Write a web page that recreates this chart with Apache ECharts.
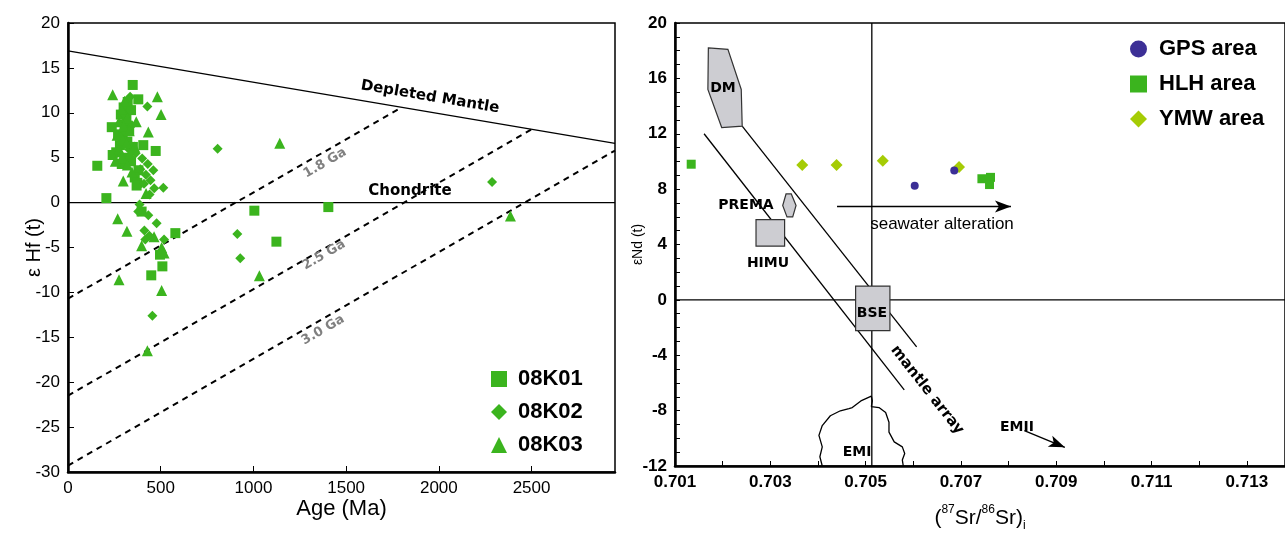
<!DOCTYPE html>
<html>
<head>
<meta charset="utf-8">
<script src="https://cdn.jsdelivr.net/npm/echarts@6/dist/echarts.min.js"></script>
<style>
  html, body { margin: 0; padding: 0; background: #fff; }
  #chart { width: 1285px; height: 537px; }
</style>
</head>
<body>
<div id="chart"></div>
<script>
// ---- left panel: eHf(t) vs age ----
const hf08K01 = [
  [349, 13.1], [379, 11.5], [322, 11.2], [300, 10.6], [340, 10.3], [285, 9.8], [315, 9.3],
  [236, 8.4], [305, 8.7], [330, 8.0], [270, 7.6], [295, 7.2], [320, 6.8], [406, 6.4],
  [350, 6.2], [280, 6.4], [260, 5.6], [473, 5.75], [241, 5.3], [310, 5.0], [340, 4.6],
  [290, 4.3], [158, 4.1], [380, 3.6], [360, 2.8], [374, 2.2], [370, 1.9], [207, 0.5],
  [397, -1.0], [579, -3.4], [496, -5.8], [509, -7.1], [449, -8.1], [1005, -0.9],
  [1404, -0.5], [1124, -4.35]
]
const hf08K02 = [
  [428, 10.7], [335, 11.8], [300, 9.9], [345, 8.6], [310, 7.9], [283, 6.6], [330, 5.9],
  [365, 5.5], [300, 4.6], [400, 4.9], [430, 4.3], [390, 3.7], [420, 3.1], [460, 3.6],
  [445, 2.5], [410, 2.1], [465, 1.6], [514, 1.65], [440, 0.9], [386, -0.2], [379, -1.0],
  [433, -1.4], [478, -2.3], [412, -3.1], [439, -3.7], [417, -4.1], [518, -4.1],
  [455, -12.6], [807, 6.0], [2287, 2.3], [913, -3.5], [929, -6.2]
]
const hf08K03 = [
  [241, 12.0], [482, 11.8], [305, 11.3], [290, 10.4], [502, 9.8], [320, 9.4], [275, 9.0],
  [368, 9.0], [300, 8.5], [330, 8.0], [433, 7.85], [265, 7.5], [295, 7.0], [315, 6.6],
  [360, 6.2], [275, 6.0], [335, 5.4], [290, 5.0], [255, 4.6], [320, 4.2], [345, 3.4],
  [298, 2.4], [421, 1.0], [268, -1.8], [318, -3.2], [464, -3.8], [397, -4.8], [505, -5.0],
  [518, -5.6], [275, -8.6], [505, -9.8], [428, -16.5], [1142, 6.6], [1032, -8.15],
  [2386, -1.5]
]
const depletedMantle = [[0, 16.9], [2950, 6.6]]
const chondrite = [[0, 0], [2950, 0]]
const evo18 = [[0, -10.7], [1800, 10.6]]
const evo25 = [[0, -21.5], [2500, 8.15]]
const evo30 = [[0, -29.3], [2950, 5.8]]

// ---- right panel: eNd(t) vs (87Sr/86Sr)i ----
const gpsArea = [[0.70603, 8.25], [0.70686, 9.35]]
const hlhArea = [[0.70134, 9.8], [0.70744, 8.75], [0.70762, 8.85], [0.70760, 8.33]]
const ymwArea = [[0.70367, 9.75], [0.70439, 9.75], [0.70536, 10.05], [0.70696, 9.6]]

const dmField = [[0.70170, 18.2], [0.70211, 18.1], [0.70239, 15.2], [0.70241, 12.55], [0.70198, 12.45], [0.70169, 15.2]]
const premaField = [[0.70333, 7.65], [0.70344, 7.65], [0.70354, 6.82], [0.70347, 5.99], [0.70335, 5.99], [0.70326, 6.82]]
const himuField = [[0.70270, 5.80], [0.70330, 5.80], [0.70330, 3.88], [0.70270, 3.88]]
const bseField = [[0.70479, 1.0], [0.70551, 1.0], [0.70551, -2.22], [0.70479, -2.22]]
const emiField = [
  [0.70409, -12], [0.70404, -11.33], [0.70409, -10.62], [0.70402, -9.79], [0.70409, -9.08],
  [0.70426, -8.37], [0.70447, -8.01], [0.70465, -7.85], [0.70472, -7.78], [0.70490, -7.30],
  [0.70512, -6.95], [0.70514, -7.30], [0.70512, -7.71], [0.70528, -7.78], [0.70542, -8.13],
  [0.70549, -8.84], [0.70549, -9.55], [0.70560, -10.26], [0.70577, -10.62], [0.70582, -11.09],
  [0.70577, -11.56], [0.70579, -12]
]
const arrayUpper = [[0.70241, 12.55], [0.70607, -3.4]]
const arrayLower = [[0.70161, 12.0], [0.70581, -6.5]]
const bseVertical = [[0.70513, -12], [0.70513, 20]]
const ndZero = [[0.701, 0], [0.7138, 0]]
const seawaterArrow = [[0.70440, 6.75], [0.70805, 6.75]]
const emiiArrow = [[0.70833, -9.45], [0.70918, -10.65]]

const GREEN = '#3bb41e'
const LIME = '#a5cc05'
const NAVY = '#3c2f96'
const SANS = "'Liberation Sans', Arial, sans-serif"
const HEAVY = "'DejaVu Sans', 'Liberation Sans', sans-serif"

const chart = echarts.init(document.getElementById('chart'), null, { renderer: 'canvas' })

function refLine (data, xi, style) {
  return {
    type: 'line', xAxisIndex: xi, yAxisIndex: xi, data: data,
    symbol: 'none', silent: true, z: 1,
    lineStyle: Object.assign({ color: '#000', width: 1.3 }, style || {})
  }
}

function field (pts) {
  return {
    type: 'custom', xAxisIndex: 1, yAxisIndex: 1, data: [pts[0]], silent: true, z: 3,
    renderItem (params, api) {
      return {
        type: 'polygon',
        shape: { points: pts.map(p => api.coord(p)) },
        style: { fill: '#cdcdd2', stroke: '#333', lineWidth: 1.2 }
      }
    }
  }
}

function arrow (pts) {
  return {
    type: 'line', xAxisIndex: 1, yAxisIndex: 1, data: [], silent: true,
    markLine: {
      silent: true, symbol: ['none', 'arrow'], symbolSize: [9, 16],
      label: { show: false },
      lineStyle: { color: '#000', width: 1.4, type: 'solid' },
      data: [[{ coord: pts[0] }, { coord: pts[1] }]]
    }
  }
}

function note (text, x, y, opts) {
  opts = opts || {}
  return {
    type: 'text', x: x, y: y, rotation: (opts.rot || 0) * Math.PI / 180, z: 20,
    style: {
      text: text, fill: opts.color || '#000', align: 'center', verticalAlign: 'middle',
      font: opts.font || ('bold 14px ' + HEAVY)
    }
  }
}

const axisLabelLeft = { color: '#000', fontSize: 17, fontFamily: SANS, margin: 8 }
const axisLabelRight = { color: '#000', fontSize: 17, fontWeight: 'bold', fontFamily: SANS, margin: 8 }

const option = {
  animation: false,
  backgroundColor: '#fff',
  grid: [
    { left: 68, right: 670, top: 23, bottom: 65, show: true, borderColor: '#000', borderWidth: 1.5 },
    { left: 675, right: 0, top: 23, bottom: 66, show: true, borderColor: '#000', borderWidth: 1.5 }
  ],
  xAxis: [
    {
      gridIndex: 0, type: 'value', min: 0, max: 2950, interval: 500,
      name: 'Age (Ma)', nameLocation: 'middle', nameGap: 26, nameMoveOverlap: false,
      nameTextStyle: { color: '#000', fontSize: 22, fontFamily: SANS },
      axisLine: { onZero: false, lineStyle: { color: '#000', width: 2.5 } },
      axisTick: { inside: true, length: 6, lineStyle: { color: '#000' } },
      axisLabel: Object.assign({ showMaxLabel: false, formatter: v => String(v) }, axisLabelLeft),
      splitLine: { show: false }
    },
    {
      gridIndex: 1, type: 'value', min: 0.701, max: 0.7138, interval: 0.001,
      name: '({sup|87}Sr/{sup|86}Sr){sub|i}', nameLocation: 'middle', nameGap: 38, nameMoveOverlap: false,
      nameTextStyle: {
        color: '#000', fontSize: 21, fontFamily: SANS, lineHeight: 28,
        rich: {
          sup: { fontSize: 12, fontFamily: SANS, verticalAlign: 'top', lineHeight: 28 },
          sub: { fontSize: 12, fontFamily: SANS, verticalAlign: 'bottom', lineHeight: 28 }
        }
      },
      axisLine: { onZero: false, lineStyle: { color: '#000', width: 2.5 } },
      axisTick: { inside: true, length: 5, lineStyle: { color: '#000' } },
      axisLabel: Object.assign({
        showMaxLabel: false,
        formatter: v => {
          const k = Math.round((v - 0.701) * 1000)
          return (k % 2 === 0 && k <= 12) ? v.toFixed(3) : ''
        }
      }, axisLabelRight),
      splitLine: { show: false }
    }
  ],
  yAxis: [
    {
      gridIndex: 0, type: 'value', min: -30, max: 20, interval: 5,
      name: 'ε Hf (t)', nameLocation: 'middle', nameGap: 24, nameRotate: 90, nameMoveOverlap: false,
      nameTextStyle: { color: '#000', fontSize: 20, fontFamily: SANS },
      axisLine: { onZero: false, lineStyle: { color: '#000', width: 2.5 } },
      axisTick: { inside: true, length: 6, lineStyle: { color: '#000' } },
      axisLabel: axisLabelLeft,
      splitLine: { show: false }
    },
    {
      gridIndex: 1, type: 'value', min: -12, max: 20, interval: 1,
      name: 'εNd (t)', nameLocation: 'middle', nameGap: 30, nameRotate: 90, nameMoveOverlap: false,
      nameTextStyle: { color: '#000', fontSize: 14, fontFamily: SANS },
      axisLine: { onZero: false, lineStyle: { color: '#000', width: 2.5 } },
      axisTick: { inside: true, length: 5, lineStyle: { color: '#000' } },
      axisLabel: Object.assign({ formatter: v => (v % 4 === 0 ? String(v) : '') }, axisLabelRight),
      splitLine: { show: false }
    }
  ],
  legend: [
    {
      left: 486, top: 362, orient: 'vertical', itemGap: 9, itemWidth: 16, itemHeight: 16,
      data: ['08K01', '08K02', '08K03'],
      textStyle: { color: '#000', fontSize: 22, fontWeight: 'bold', fontFamily: SANS, lineHeight: 24, padding: [0, 0, 0, 6] }
    },
    {
      left: 1125, top: 31, orient: 'vertical', itemGap: 9, itemWidth: 17, itemHeight: 17,
      data: ['GPS area', 'HLH area', 'YMW area'],
      textStyle: { color: '#000', fontSize: 22, fontWeight: 'bold', fontFamily: SANS, lineHeight: 26, padding: [0, 0, 0, 7] }
    }
  ],
  series: [
    refLine(depletedMantle, 0),
    refLine(chondrite, 0),
    refLine(evo18, 0, { type: [6, 5], width: 2 }),
    refLine(evo25, 0, { type: [6, 5], width: 2 }),
    refLine(evo30, 0, { type: [6, 5], width: 2 }),
    { name: '08K01', type: 'scatter', xAxisIndex: 0, yAxisIndex: 0, symbol: 'rect', symbolSize: 10, data: hf08K01, itemStyle: { color: GREEN, opacity: 1 }, z: 5 },
    { name: '08K02', type: 'scatter', xAxisIndex: 0, yAxisIndex: 0, symbol: 'diamond', symbolSize: 10, data: hf08K02, itemStyle: { color: GREEN, opacity: 1 }, z: 5 },
    { name: '08K03', type: 'scatter', xAxisIndex: 0, yAxisIndex: 0, symbol: 'triangle', symbolSize: 11, data: hf08K03, itemStyle: { color: GREEN, opacity: 1 }, z: 5 },

    refLine(bseVertical, 1),
    refLine(ndZero, 1),
    refLine(arrayUpper, 1),
    refLine(arrayLower, 1),
    refLine(emiField, 1, { width: 1.3 }),
    field(dmField),
    field(premaField),
    field(himuField),
    field(bseField),
    arrow(seawaterArrow),
    arrow(emiiArrow),
    { name: 'GPS area', type: 'scatter', xAxisIndex: 1, yAxisIndex: 1, symbol: 'circle', symbolSize: 8, data: gpsArea, itemStyle: { color: NAVY, opacity: 1 }, z: 6 },
    { name: 'HLH area', type: 'scatter', xAxisIndex: 1, yAxisIndex: 1, symbol: 'rect', symbolSize: 9, data: hlhArea, itemStyle: { color: GREEN, opacity: 1 }, z: 6 },
    { name: 'YMW area', type: 'scatter', xAxisIndex: 1, yAxisIndex: 1, symbol: 'diamond', symbolSize: 12, data: ymwArea, itemStyle: { color: LIME, opacity: 1 }, z: 5 }
  ],
  graphic: [
    note('Depleted Mantle', 430, 97, { rot: -9.6, font: 'bold 15px ' + HEAVY }),
    note('Chondrite', 410, 191, { font: 'bold 15px ' + HEAVY }),
    note('1.8 Ga', 325, 163, { rot: 30, color: '#808080', font: 'bold 13px ' + HEAVY }),
    note('2.5 Ga', 324, 255, { rot: 30, color: '#808080', font: 'bold 13px ' + HEAVY }),
    note('3.0 Ga', 323, 330, { rot: 30, color: '#808080', font: 'bold 13px ' + HEAVY }),
    note('DM', 723, 88),
    note('PREMA', 746, 205),
    note('HIMU', 768, 263),
    note('BSE', 872, 313),
    note('EMI', 857, 452),
    note('EMII', 1017, 427),
    note('mantle array', 927, 390, { rot: -51.8, font: 'bold 15px ' + HEAVY }),
    note('seawater alteration', 942, 224, { font: '17px ' + SANS })
  ]
}

chart.setOption(option)
</script>
</body>
</html>
